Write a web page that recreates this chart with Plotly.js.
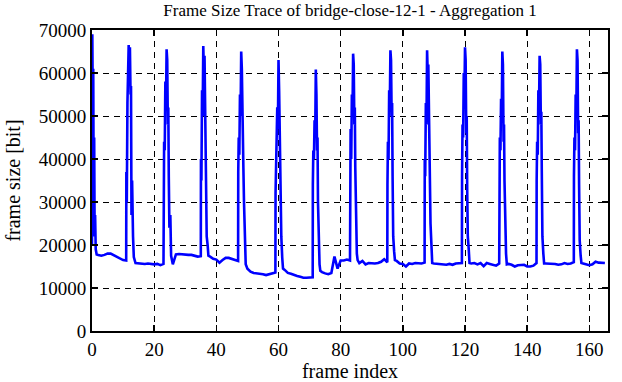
<!DOCTYPE html>
<html>
<head>
<meta charset="utf-8">
<script src="https://cdn.plot.ly/plotly-3.0.1.min.js"></script>
<style>html,body{margin:0;padding:0;background:#fff;}#chart{width:622px;height:382px;}</style>
</head>
<body>
<div id="chart"></div>
<script>
// Baseline frame sizes [bit] for frames 0..165 (null where a peak replaces the frame)
const baseline = [
  null, null, 17700, 17500, 17700, 18000, 18000, 17600, 17200, 16800,
  16500, 16400, null, null, 15800, 15700, 15700, 15600, 15700, 15600,
  15500, 15600, 15300, 15600, null, null, 15500, 17800, 17900, 17800,
  17800, 17700, 17700, 17500, 17300, 17400, null, null, 17300, 16800,
  16600, 15900, 16500, 17000, 17000, 16800, 16500, 16300, null, null,
  14500, 13800, 13500, 13400, 13400, 13200, 13000, 13200, 13500, 13600,
  null, null, 14200, 13500, 13300, 13000, 12800, 12600, 12400, 12400,
  12400, 12500, null, null, 13700, 13400, 13200, 13500, 17300, 14500,
  16400, 16400, 16600, 16400, null, null, 15800, 16300, 15500, 15800,
  15700, 15700, 15800, 16100, 16700, 16000, null, null, 16300, 15700,
  15600, 15000, 15700, 15600, 15800, 15800, 15700, 15900, null, null,
  15700, 15600, 15500, 15500, 15400, 15600, 15400, 15700, 15800, 15800,
  null, null, 15700, 15800, 15500, 15800, 15100, 15800, 15600, 15400,
  15200, 15700, null, null, 15600, 15400, 15000, 15300, 15300, 15400,
  15000, 15000, 15200, 15800, null, null, 15700, 15700, 15600, 15600,
  15400, 15500, 15800, 15600, 15700, 16000, null, null, 15700, 15500,
  15300, 15500, 16100, 15900, 15800, 15800
];

// First (I-frame) burst at the very start of the trace
const startOffsets = [0, 0.1, 0.25, 0.4, 0.55, 0.7, 0.85, 1.0, 1.2, 1.5];
const startValues  = [20000, 69000, 52000, 61000, 28000, 45000, 22000, 27000, 19000, 17800];

// Periodic bursts every 12 frames
const peakCenters = [12, 24, 36, 48, 60, 72, 84, 96, 108, 120, 132, 144, 156];
const peakOffsets = [-0.95, -0.8, -0.6, -0.4, -0.2, 0, 0.2, 0.4, 0.55, 0.7, 0.9, 1.2, 1.45];
const peak12  = [37000, 30000, 53000, 62000, 66500, 60000, 66000, 55000, 57000, 27000, 35000, 22000, 17200];
const peak24  = [36000, 44000, 42000, 58000, 52000, 65500, 63000, 48000, 52000, 36000, 24000, 27000, 17500];
const peak36  = [40000, 35000, 56000, 50000, 66300, 60000, 64000, 52000, 55000, 37000, 22000, 20000, 17500];
const peak48  = [37000, 45000, 41000, 55000, 50000, 65000, 61000, 45000, 48000, 38000, 30000, 20000, 15500];
const peak60  = [32000, 41000, 39000, 52000, 47000, 63000, 56000, 44000, 48000, 35000, 22000, 17000, 14500];
const peak72  = [34000, 42000, 40000, 49000, 45000, 60800, 55000, 42000, 45000, 30000, 19000, 15500, 14000];
const peak84  = [32000, 47000, 40000, 55000, 50000, 64500, 62000, 48000, 52000, 38000, 23000, 18000, 16500];
const peak96  = [34000, 44000, 40000, 56000, 52000, 65300, 63000, 50000, 53000, 36000, 22000, 18500, 16500];
const peak108 = [40000, 36000, 53000, 48000, 65300, 60000, 62000, 48000, 51000, 38000, 25000, 20000, 15800];
const peak120 = [36000, 48000, 45000, 60000, 54000, 66000, 63000, 46000, 50000, 33000, 22000, 19000, 15800];
const peak132 = [38000, 45000, 42000, 54000, 49000, 65000, 62000, 44000, 48000, 35000, 22000, 18000, 15500];
const peak144 = [35000, 44000, 41000, 56000, 51000, 64000, 62000, 48000, 51000, 37000, 22000, 18000, 15700];
const peak156 = [36000, 45000, 42000, 55000, 50000, 65500, 63000, 46000, 49000, 34000, 21000, 17500, 15800];
const peakValues = [peak12, peak24, peak36, peak48, peak60, peak72, peak84, peak96, peak108, peak120, peak132, peak144, peak156];

const xTicks = [0, 20, 40, 60, 80, 100, 120, 140, 160];
const yTicks = [0, 10000, 20000, 30000, 40000, 50000, 60000, 70000];

// Merge everything into one ordered trace
const pts = [];
baseline.forEach((v, i) => { if (v !== null) pts.push([i, v]); });
startOffsets.forEach((o, k) => pts.push([o, startValues[k]]));
peakCenters.forEach((c, j) => {
  peakOffsets.forEach((o, k) => pts.push([c + o, peakValues[j][k]]));
});
pts.sort((a, b) => a[0] - b[0]);
const xs = pts.map(p => p[0]);
const ys = pts.map(p => p[1]);

const fontFam = '"Liberation Serif", "DejaVu Serif", serif';

const trace = {
  x: xs, y: ys, type: 'scatter', mode: 'lines',
  line: {color: '#0000ff', width: 2.6},
  hoverinfo: 'skip'
};

const axisCommon = {
  showline: true, linecolor: '#000', linewidth: 2,
  mirror: 'ticks', ticks: 'inside', ticklen: 6, tickwidth: 1.5, tickcolor: '#000',
  showgrid: true, gridcolor: '#000', gridwidth: 1, griddash: '6px,5px',
  zeroline: false,
  tickfont: {family: fontFam, size: 19, color: '#000'}
};

const layout = {
  width: 622, height: 382,
  margin: {l: 92, r: 14, t: 30, b: 51},
  paper_bgcolor: '#fff', plot_bgcolor: '#fff',
  showlegend: false,
  title: {
    text: 'Frame Size Trace of bridge-close-12-1 - Aggregation 1',
    font: {family: fontFam, size: 17, color: '#000'},
    x: 0.5, xref: 'paper', xanchor: 'center',
    y: 1, yref: 'container', yanchor: 'top', pad: {t: 4}
  },
  xaxis: Object.assign({}, axisCommon, {
    range: [0, 166], tickmode: 'array', tickvals: xTicks,
    title: {text: 'frame index', font: {family: fontFam, size: 20, color: '#000'}, standoff: 7}
  }),
  yaxis: Object.assign({}, axisCommon, {
    range: [0, 70000], tickmode: 'array', tickvals: yTicks, ticktext: yTicks.map(String),
    title: {text: 'frame size [bit]', font: {family: fontFam, size: 20, color: '#000'}, standoff: 13}
  })
};

Plotly.newPlot('chart', [trace], layout, {staticPlot: true, displayModeBar: false});
</script>
</body>
</html>
